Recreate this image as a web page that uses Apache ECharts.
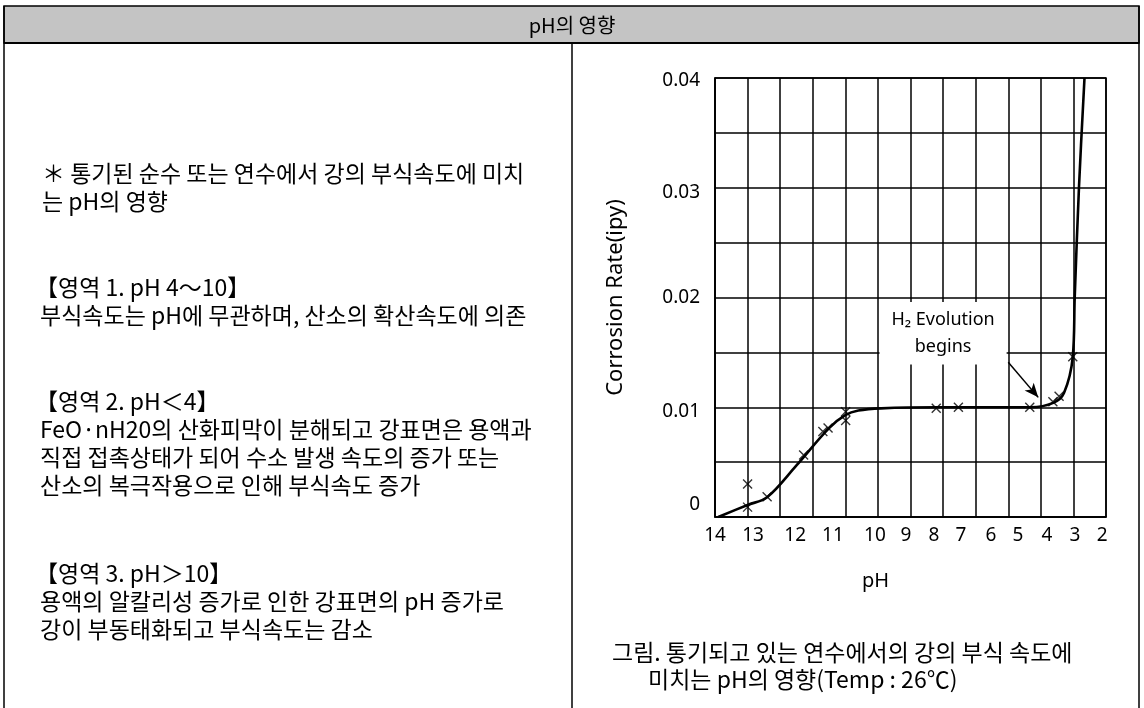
<!DOCTYPE html>
<html><head><meta charset="utf-8">
<script src="https://cdn.jsdelivr.net/npm/echarts@6/dist/echarts.min.js"></script>
<style>html,body{margin:0;padding:0;background:#fff}#c{width:1144px;height:708px}</style>
</head><body><div id="c"></div>
<script>
// ---- content / data ----
const headerTitle = 'pH의 영향';
const introLines = ['＊ 통기된 순수 또는 연수에서 강의 부식속도에 미치', '는 pH의 영향'];
const region1Lines = ['【영역 1. pH 4～10】', '부식속도는 pH에 무관하며, 산소의 확산속도에 의존'];
const region2Lines = ['【영역 2. pH＜4】', 'FeO·nH20의 산화피막이 분해되고 강표면은 용액과', '직접 접촉상태가 되어 수소 발생 속도의 증가 또는', '산소의 복극작용으로 인해 부식속도 증가'];
const region3Lines = ['【영역 3. pH＞10】', '용액의 알칼리성 증가로 인한 강표면의 pH 증가로', '강이 부동태화되고 부식속도는 감소'];
const captionLines = ['그림. 통기되고 있는 연수에서의 강의 부식 속도에', '미치는 pH의 영향(Temp : 26℃)'];
const xAxisName = 'pH';
const yAxisName = 'Corrosion Rate(ipy)';
const annotationLines = ['H₂ Evolution', 'begins'];

// smooth curve through the data (pH, corrosion rate in ipy)
const curvePH   = [13.9, 13.0, 12.4, 11.5, 10.5, 9.99, 9.6, 8.9, 7.2, 4.3, 3.62, 3.29, 3.02, 2.96, 2.83, 2.66];
const curveRate = [0.0, 0.0011, 0.0018, 0.0047, 0.0081, 0.0093, 0.0097, 0.0099, 0.0100, 0.0100, 0.0104, 0.0113, 0.0146, 0.0200, 0.0300, 0.0400];
// measured points (x markers)
const markPH   = [13.0, 13.0, 12.40, 11.28, 10.69, 10.53, 9.99, 9.99, 7.21, 6.53, 4.34, 3.63, 3.44, 3.02];
const markRate = [0.0030, 0.0009, 0.00185, 0.00565, 0.0078, 0.0081, 0.0088, 0.0096, 0.0099, 0.0100, 0.0100, 0.0105, 0.0110, 0.0146];

// tick labels and where the original prints them along the axes
const xTickLabels = ['14','13','12','11','10','9','8','7','6','5','4','3','2'];
const xTickAt     = [14, 12.83, 11.54, 10.38, 9.09, 8.14, 7.28, 6.45, 5.53, 4.70, 3.81, 2.95, 2.12];
const yTickLabels = ['0','0.01','0.02','0.03','0.04'];
const yTickAt     = [0.0011, 0.0096, 0.0200, 0.0296, 0.0398];

// ---- build ----
function lookup(vals, labels, v) {
  let best = 0, bd = Infinity;
  vals.forEach((t, i) => { const d = Math.abs(t - v); if (d < bd) { bd = d; best = i; } });
  return labels[best];
}
const KR = '"Noto Sans CJK KR", "Noto Sans", sans-serif';
const LAT = '"Noto Sans", "Noto Sans CJK KR", sans-serif';

const graphics = [];
// header band and frame
graphics.push({type:'rect', z:-10, shape:{x:4, y:6, width:1135, height:37}, style:{fill:'#c4c4c4', stroke:'#000', lineWidth:1.5}});
graphics.push({type:'line', z:-9, shape:{x1:4, y1:43, x2:1139, y2:43}, style:{stroke:'#000', lineWidth:2}});
graphics.push({type:'line', z:-9, shape:{x1:4, y1:6, x2:4, y2:708}, style:{stroke:'#000', lineWidth:1.5}});
graphics.push({type:'line', z:-9, shape:{x1:1139, y1:6, x2:1139, y2:708}, style:{stroke:'#000', lineWidth:1.5}});
graphics.push({type:'line', z:-9, shape:{x1:572, y1:43, x2:572, y2:708}, style:{stroke:'#000', lineWidth:1.5}});
graphics.push({type:'text', x:572, y:25, style:{text:headerTitle, fill:'#000', font:'20px ' + KR, align:'center', verticalAlign:'middle'}});

const BODY = '23px ' + KR;
function addBlock(lines, y0, x, headX) {
  lines.forEach((t, i) => graphics.push({type:'text', x:(i === 0 ? headX : x), y:y0 + i * 28,
    style:{text:t, fill:'#000', font:BODY, align:'left', verticalAlign:'middle'}}));
}
addBlock(introLines, 173, 42, 42);
addBlock(region1Lines, 287, 40, 35);
addBlock(region2Lines, 401, 40, 35);
addBlock(region3Lines, 573, 40, 35);
graphics.push({type:'text', x:612, y:652, style:{text:captionLines[0], fill:'#000', font:BODY, align:'left', verticalAlign:'middle'}});
graphics.push({type:'text', x:648, y:679, style:{text:captionLines[1], fill:'#000', font:BODY, align:'left', verticalAlign:'middle'}});

const chart = echarts.init(document.getElementById('c'), null, {renderer:'canvas'});
chart.setOption({
  animation: false,
  backgroundColor: '#fff',
  graphic: graphics,
  grid: {left:715, right:38, top:78, bottom:191, show:true, borderColor:'#000', borderWidth:1.5, containLabel:false},
  xAxis: {
    type:'value', min:2, max:14, interval:1, inverse:true,
    name:xAxisName, nameLocation:'middle', nameGap:54,
    nameTextStyle:{color:'#000', fontSize:20, fontFamily:LAT, padding:[0,70,0,0]},
    axisLine:{show:true, lineStyle:{color:'#000', width:1.5}},
    axisTick:{show:false},
    splitLine:{show:true, lineStyle:{color:'#000', width:1.5}},
    axisLabel:{customValues:xTickAt, margin:9, color:'#000', fontSize:19, fontFamily:LAT,
      formatter:(v) => lookup(xTickAt, xTickLabels, v)}
  },
  yAxis: {
    type:'value', min:0, max:0.04, interval:0.005,
    name:yAxisName, nameLocation:'middle', nameRotate:90, nameGap:88,
    nameTextStyle:{color:'#000', fontSize:22, fontFamily:LAT},
    axisLine:{show:true, lineStyle:{color:'#000', width:1.5}},
    axisTick:{show:false},
    splitLine:{show:true, lineStyle:{color:'#000', width:1.5}},
    axisLabel:{customValues:yTickAt, margin:15, color:'#000', fontSize:19, fontFamily:LAT,
      formatter:(v) => lookup(yTickAt, yTickLabels, v)}
  },
  series: [
    {
      type:'line', name:'curve', smooth:0.35, showSymbol:false, symbol:'none',
      lineStyle:{color:'#000', width:2.6}, z:3,
      data: curvePH.map((p, i) => [p, curveRate[i]]),
      markLine: {
        silent:true, symbol:['none','arrow'], symbolSize:[9,14],
        lineStyle:{color:'#000', width:1.5, type:'solid'}, label:{show:false},
        data:[[{coord:[5.0, 0.0141]}, {coord:[4.08, 0.0109]}]]
      }
    },
    {
      type:'scatter', name:'measured', z:4,
      symbol:'path://M0,0L10,10M10,0L0,10', symbolSize:9,
      itemStyle:{color:'none', borderColor:'#000', borderWidth:1.4},
      data: markPH.map((p, i) => [p, markRate[i]]),
      markArea: {
        silent:true, itemStyle:{color:'#fff'},
        label:{show:true, position:'inside', formatter:annotationLines.join('\n'), color:'#000',
          fontSize:18, lineHeight:27, fontFamily:LAT},
        data:[[{coord:[8.95, 0.0196]}, {coord:[5.05, 0.0139]}]]
      }
    }
  ]
});
</script></body></html>
